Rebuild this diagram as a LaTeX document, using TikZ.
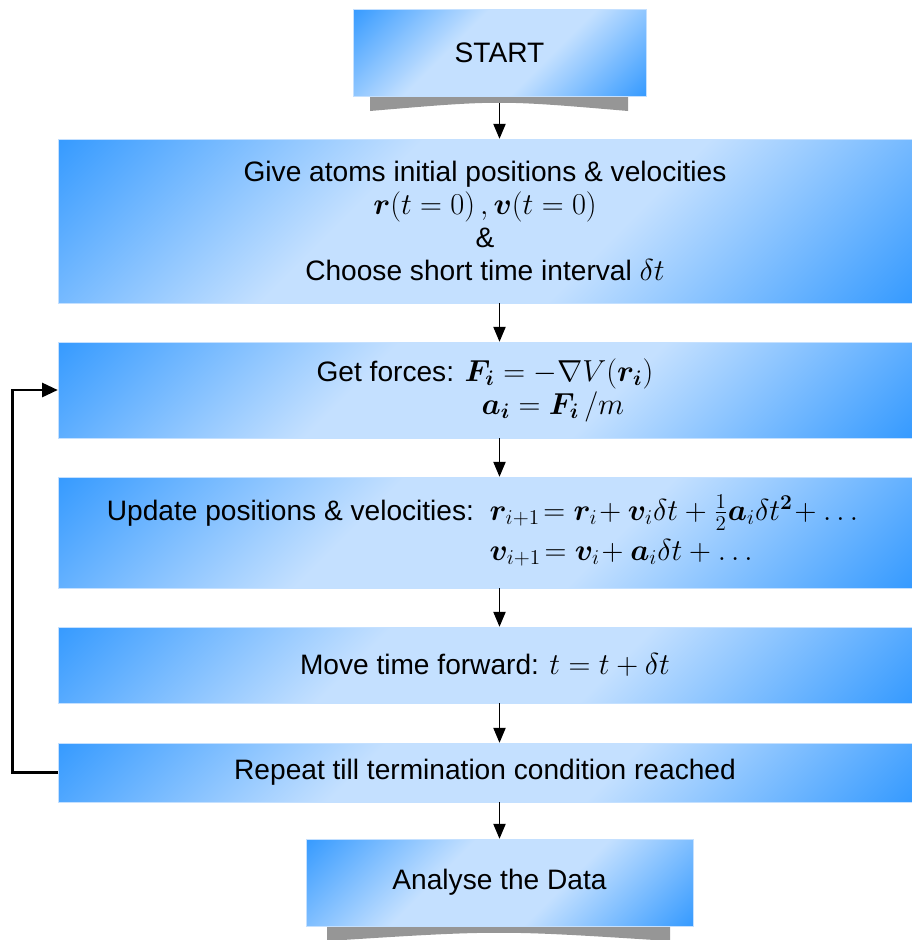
\documentclass[tikz,border=0pt]{standalone}
\usepackage{amsmath}
\usepackage{bm}
\usepackage{fontspec}
\setmainfont{Liberation Sans}
\usetikzlibrary{arrows.meta}
\definecolor{boxdark}{RGB}{51,153,255}
\definecolor{boxlight}{RGB}{196,224,255}
\definecolor{shadowgray}{RGB}{150,150,150}
\pgfdeclarehorizontalshading{boxshade}{100bp}{color(0bp)=(boxdark); color(14bp)=(boxdark); color(40bp)=(boxlight); color(60bp)=(boxlight); color(86bp)=(boxdark); color(100bp)=(boxdark)}
\newcommand\widewidth{17.08cm}
\newcommand\startwidth{5.86cm}
\newcommand\lastwidth{7.74cm}
\newcommand\textsize{\fontsize{16}{18.7}\selectfont}
\newcommand\bigmath[1]{{\fontsize{18.5}{18.7}\selectfont$#1$}}

\begin{document}
\begin{tikzpicture}[x=0.02cm,y=-0.02cm,
    flowbox/.style={shading=boxshade,shading angle=-45,draw=boxlight,line width=0.3pt,
      inner sep=0pt,align=center,font=\textsize},
    flowarrow/.style={-{Triangle[length=8.5pt,width=7pt]},line width=0.7pt},
    looparrow/.style={-{Triangle[length=9pt,width=8pt]},line width=1.6pt},
    shadowfill/.style={fill=shadowgray}]
    \useasboundingbox (0,0) rectangle (912,940);

    \fill[shadowfill] (370,96) -- (628,96) -- (628,111) .. controls (499,100) .. (370,111) -- cycle;
    \fill[shadowfill] (327,926) -- (670,926) -- (670,941) .. controls (499,930) .. (327,941) -- cycle;

    \node[flowbox,minimum width=\startwidth,minimum height=1.74cm] (start) at (499.5,52.5) {START};
    \node[flowbox,minimum width=\widewidth,minimum height=3.28cm] (init) at (485,221)
      {Give atoms initial positions \& velocities\\ \bigmath{\bm{r}(t=0)\,,\bm{v}(t=0)}\\ \&\\ Choose short time interval \bigmath{\delta t}};
    \node[flowbox,minimum width=\widewidth,minimum height=1.92cm,align=left] (forces) at (485,390)
      {Get forces: \bigmath{\bm{F_i}=-\nabla V(\bm{r_i})}\\ \hspace*{3.3cm}\bigmath{\bm{a_i}=\bm{F_i}\,/m}};
    \node[flowbox,minimum width=\widewidth,minimum height=2.22cm] (update) at (485,532.5)
      {\begin{tabular}{@{}r@{\ \ }l@{}}
        Update positions \& velocities: & \bigmath{\bm{r}_{i+1}\!=\bm{r}_i\!+\bm{v}_i\delta t+\frac{1}{2}\bm{a}_i\delta t^{\bm{2}}\!+\dots}\\[4pt]
        & \bigmath{\bm{v}_{i+1}\!=\bm{v}_i\!+\bm{a}_i\delta t+\dots}
      \end{tabular}};
    \node[flowbox,minimum width=\widewidth,minimum height=1.52cm] (move) at (485,665)
      {Move time forward: \bigmath{t=t+\delta t}};
    \node[flowbox,minimum width=\widewidth,minimum height=1.18cm] (repeat) at (485,772.5)
      {Repeat till termination condition reached};
    \node[flowbox,minimum width=\lastwidth,minimum height=1.74cm] (analyse) at (499.5,882.5)
      {Analyse the Data};

    \draw[flowarrow] ([yshift=-0.14cm]start.south) -- (init.north -| start.south);
    \draw[flowarrow] (init.south -| start.south) -- (forces.north -| start.south);
    \draw[flowarrow] (forces.south -| start.south) -- (update.north -| start.south);
    \draw[flowarrow] (update.south -| start.south) -- (move.north -| start.south);
    \draw[flowarrow] (move.south -| start.south) -- (repeat.north -| start.south);
    \draw[flowarrow] (repeat.south -| analyse.north) -- (analyse.north);

    \draw[looparrow] (repeat.west) -- ++(-45,0) |- (forces.west);

  \end{tikzpicture}
\end{document}
